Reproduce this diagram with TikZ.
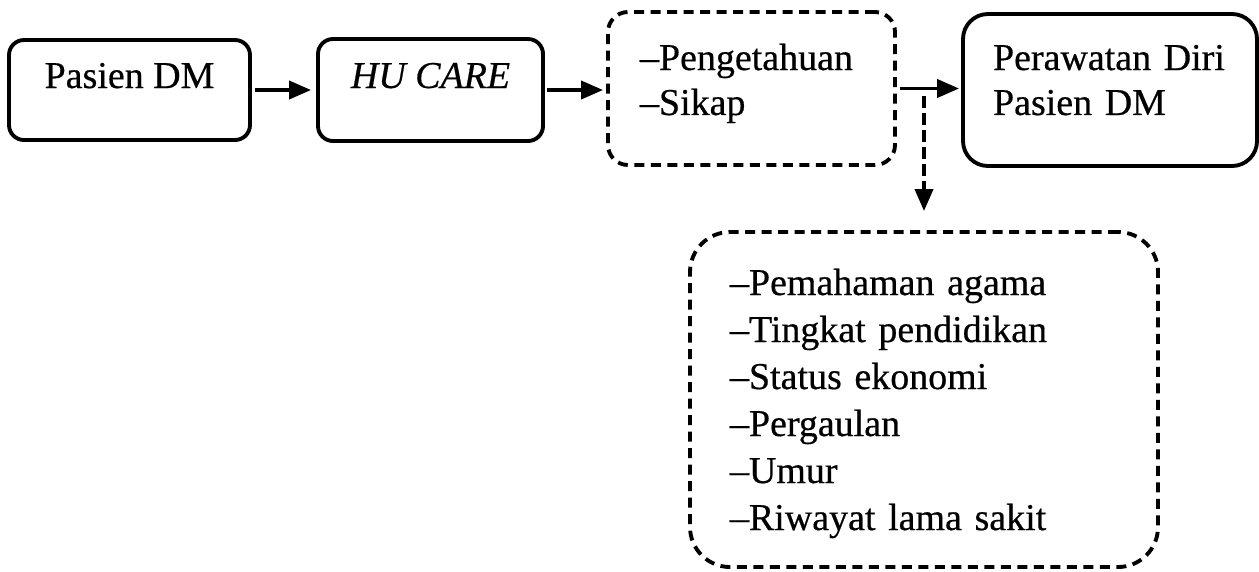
\documentclass[tikz,border=0pt]{standalone}
\usepackage{fontspec}
\setmainfont{Liberation Serif}[FakeBold=0.5, ItalicFeatures={FakeBold=0.5}]
\usetikzlibrary{arrows.meta}
\pgfdeclarelayer{bg}
\pgfsetlayers{bg,main}
\tikzset{
        box/.style={draw, line width=2.2pt, rounded corners=0.3cm, text height=0.5cm,
                font=\fontsize{21.6}{25.6}\selectfont},
        dbox/.style={box, dash pattern=on 0.2cm off 0.13cm},
        link/.style={line width=2.2pt, -{Triangle[length=0.44cm,width=0.36cm]}},
        dlink/.style={link, dash pattern=on 0.24cm off 0.1cm}
}

\begin{document}
\begin{tikzpicture}
        \useasboundingbox (0cm, 0cm) rectangle (25.18cm, -11.42cm);
        \node (pasien) [box, minimum width=4.82cm, minimum height=2cm, text depth=0.58cm] at (2.59cm, -1.80cm) {Pasien DM};
        \node (hu) [box, minimum width=4.5cm, minimum height=2.04cm, text depth=0.58cm] at (8.61cm, -1.80cm) {\textit{HU CARE}};
        \node (pk) [dbox, rounded corners=0.4cm, align=left, text width=4.46cm, inner xsep=0.64cm, minimum height=3.06cm, text depth=1.24cm] at (15.03cm, -1.77cm) {--Pengetahuan\\--Sikap};
        \node (rawat) [box, rounded corners=0.5cm, align=left, text width=4.68cm, inner xsep=0.6cm, minimum height=3.04cm, text depth=1.3cm] at (22.20cm, -1.80cm) {Perawatan Diri\\Pasien DM};
        \node (faktor) [dbox, rounded corners=0.8cm, font=\fontsize{21.6}{26.75}\selectfont, align=left, text width=7.76cm, inner xsep=0.8cm, minimum height=6.7cm, text depth=4.68cm] at (18.48cm, -7.99cm) {--Pemahaman agama\\--Tingkat pendidikan\\--Status ekonomi\\--Pergaulan\\--Umur\\--Riwayat lama sakit};
        \begin{pgfonlayer}{bg}
                \draw [link, shorten <=0.06cm, shorten >=0.1cm] (pasien.east) -- (pasien.east -| hu.west);
                \draw [link, shorten <=0.04cm, shorten >=0.06cm] (hu.east) -- (hu.east -| pk.west);
                \draw [link, shorten <=0.06cm, shorten >=0.04cm] (pk.east) -- (pk.east -| rawat.west);
                \draw [dlink, shorten <=0.14cm, shorten >=0.38cm] (pk.east -| faktor.north) -- (faktor.north);
        \end{pgfonlayer}
\end{tikzpicture}
\end{document}
